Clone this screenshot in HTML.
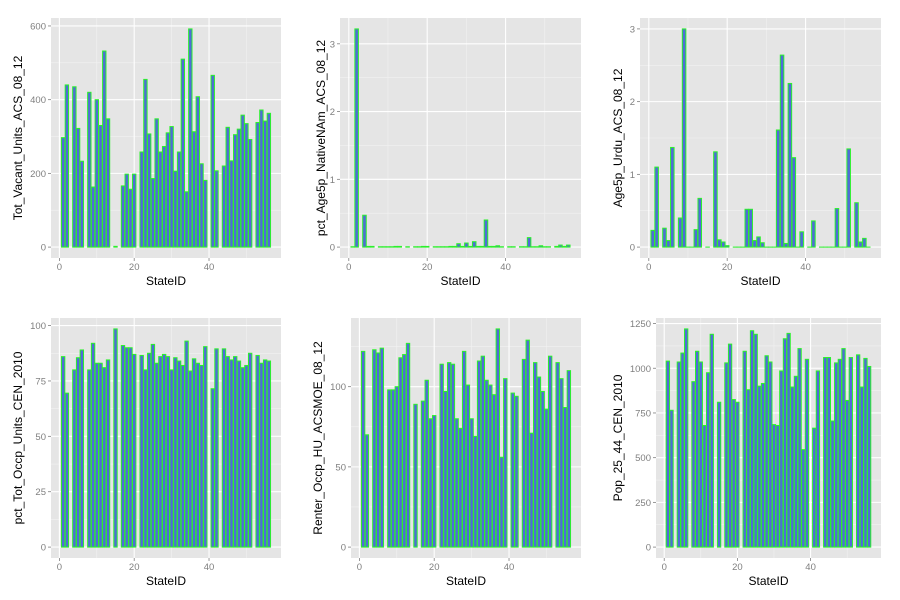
<!DOCTYPE html>
<html><head><meta charset="utf-8"><style>
body{margin:0;background:#fff;}
svg{display:block;font-family:"Liberation Sans",Arial,sans-serif;}
</style></head><body>
<svg id="chart" width="900" height="600" viewBox="0 0 900 600" xmlns="http://www.w3.org/2000/svg"></svg>
<script>
const stateIds = [1,2,4,5,6,8,9,10,11,12,13,15,17,18,19,20,22,23,24,25,26,27,28,29,30,31,32,33,34,35,36,37,38,39,41,42,44,45,46,47,48,49,50,51,53,54,55,56];
const vacantUnits = [297,440,435,322,233,420,163,400,330,532,348,2,166,198,157,198,258,455,307,186,348,258,273,310,327,206,258,510,150,592,313,408,226,181,466,207,220,325,234,305,320,358,335,292,338,372,342,363];
const pctNativeNAm = [0.005,3.22,0.47,0.01,0.01,0.005,0.005,0.005,0.005,0.01,0.01,0.005,0.005,0.005,0.01,0.01,0.005,0.005,0.005,0.005,0.01,0.01,0.05,0.01,0.06,0.01,0.08,0.01,0.01,0.4,0.01,0.01,0.02,0.005,0.005,0.005,0.005,0.005,0.14,0.005,0.005,0.02,0.005,0.005,0.01,0.03,0.01,0.03];
const urduSpeakers = [0.23,1.1,0.26,0.09,1.37,0.4,3.0,0,0,0.24,0.67,0,1.31,0.1,0.07,0.02,0,0,0,0.52,0.52,0.09,0.14,0.06,0,0,0,1.61,2.64,0.05,2.25,1.23,0,0.21,0,0.36,0,0,0,0,0.53,0,0,1.35,0.61,0.07,0.12,0];
const pctOccupied = [86,69.5,80,85.5,89,80,92,83,83,81,84.5,98.5,91,90,90,87,86.5,80,87.5,91.5,83,86,87,86,80,85.5,84,82,93,79.5,85,83,82,90.5,71.5,89.5,89.5,86,84.5,86,84,81,82,87.5,86.5,83,84.5,84];
const renterMoe = [122,70,123,121,124,98,98,100,118,120,127,89,91,104,80,82,114,97,115,114,80,74,122,101,80,69,116,119,104,101,95,136,56,105,96,94,117,129,71,115,106,97,86,119,115,105,87,110];
const pop2544 = [1040,765,1035,1085,1220,925,1095,1035,680,975,1190,810,1030,1135,825,810,1095,880,1210,1190,900,915,1070,1035,685,680,985,1165,1195,895,955,1110,545,1050,665,985,1060,1060,705,1030,1050,1110,820,1060,1075,895,1055,1010];
const yTicks1 = [0,200,400,600];
const yTicks2 = [0,1,2,3];
const yTicks3 = [0,1,2,3];
const yTicks4 = [0,25,50,75,100];
const yTicks5 = [0,50,100];
const yTicks6 = [0,250,500,750,1000,1250];
const xTicks = [0,20,40];

const NS = "http://www.w3.org/2000/svg";
const svg = document.getElementById('chart');
function mk(tag, attrs, parent){const e=document.createElementNS(NS,tag);for(const k in attrs)e.setAttribute(k,attrs[k]);(parent||svg).appendChild(e);return e;}

function panel(name, title, values, yticks, L, R, T, B, titleX){
  const g = mk('g',{});
  
  
  const xmin = Math.min(...stateIds)-0.45, xmaxd = Math.max(...stateIds)+0.45;
  const xe = (xmaxd-xmin)*0.05;
  const x0 = xmin-xe, x1 = xmaxd+xe;
  const ymax = Math.max(...values, 0);
  const ye = ymax*0.05;
  const y0 = -ye, y1 = ymax+ye;
  const sx = v => L + (v-x0)/(x1-x0)*(R-L);
  const sy = v => B - (v-y0)/(y1-y0)*(B-T);
  const bg = mk('rect',{x:L,y:T,width:R-L,height:B-T,fill:'#e5e5e5'},g);
  
  
  // minor grid
  const step = yticks[1]-yticks[0];
  for(let i=0;i<yticks.length;i++){
    const m = yticks[i]+step/2;
    if(sy(m)>T) mk('line',{x1:L,x2:R,y1:sy(m),y2:sy(m),stroke:'#f2f2f2','stroke-width':0.6},g);
  }
  for(let i=0;i<4;i++){const m=10+20*i;if(sx(m)<R)mk('line',{x1:sx(m),x2:sx(m),y1:T,y2:B,stroke:'#f2f2f2','stroke-width':0.6},g);}
  // major grid + ticks
  yticks.forEach(t=>{
    const y=sy(t);
    mk('line',{x1:L,x2:R,y1:y,y2:y,stroke:'#fff','stroke-width':1.1},g);
    mk('line',{x1:L-3,x2:L,y1:y,y2:y,stroke:'#7f7f7f','stroke-width':0.8},g);
    const tx=mk('text',{x:L-5,y:y+3.5,'text-anchor':'end','font-size':9.5,fill:'#7f7f7f'},g);
    tx.textContent=t;
    
    
  });
  xTicks.forEach(t=>{
    const x=sx(t);
    mk('line',{x1:x,x2:x,y1:T,y2:B,stroke:'#fff','stroke-width':1.1},g);
    mk('line',{x1:x,x2:x,y1:B,y2:B+3,stroke:'#7f7f7f','stroke-width':0.8},g);
    const tx=mk('text',{x:x,y:B+12,'text-anchor':'middle','font-size':9.5,fill:'#7f7f7f'},g);
    tx.textContent=t;
    
    
  });
  // bars
  stateIds.forEach((id,i)=>{
    const v=values[i];
    const xa=sx(id-0.45), xb=sx(id+0.45);
    const ya=sy(Math.max(v,0)), yb=sy(0);
    const r=mk('rect',{x:xa,y:ya,width:xb-xa,height:Math.max(yb-ya,0.01),fill:'#4f6bd8',stroke:'#2cf02c','stroke-width':1},g);
    
    
  });
  const xt=mk('text',{x:(L+R)/2,y:B+27,'text-anchor':'middle','font-size':12,fill:'#000'},g);
  xt.textContent='StateID';
  
  
  const cy=(T+B)/2;
  const yt=mk('text',{x:titleX,y:cy,'text-anchor':'middle','font-size':12,fill:'#000',transform:'rotate(-90 '+titleX+' '+cy+')'},g);
  yt.textContent=title;
  
  
}
panel('vacant-units','Tot_Vacant_Units_ACS_08_12',vacantUnits,yTicks1,51,281,18,258,22);
panel('native-nam','pct_Age5p_NativeNAm_ACS_08_12',pctNativeNAm,yTicks2,340,581,18,258,325);
panel('urdu','Age5p_Urdu_ACS_08_12',urduSpeakers,yTicks3,640,881,18,258,622);
panel('occupied-units','pct_Tot_Occp_Units_CEN_2010',pctOccupied,yTicks4,51,281,318,558,22);
panel('renter-moe','Renter_Occp_HU_ACSMOE_08_12',renterMoe,yTicks5,351,581,318,558,322);
panel('pop-25-44','Pop_25_44_CEN_2010',pop2544,yTicks6,656,881,318,558,622);
</script>
</body></html>
